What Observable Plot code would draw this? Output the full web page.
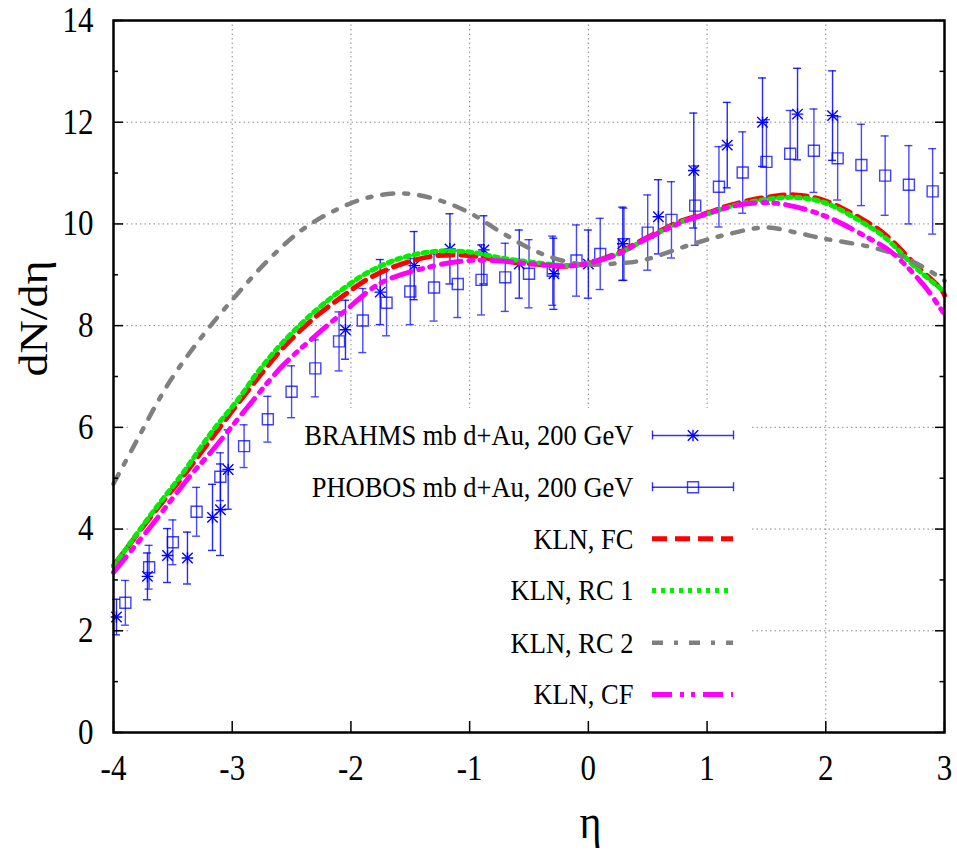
<!DOCTYPE html>
<html><head><meta charset="utf-8">
<script src="https://cdn.jsdelivr.net/npm/d3@7"></script>
<script src="https://cdn.jsdelivr.net/npm/@observablehq/plot@0.6"></script>
<style>body{margin:0;background:#fff}#chart{width:957px;height:857px}</style>
</head><body><div id="chart"></div>
<script>
// ---------- data ----------
const brahmsEta = [-3.975,-3.714,-3.545,-3.377,-3.166,-3.099,-3.034,-2.046,-1.753,-1.467,-1.166,-0.88,-0.582,-0.29,0.0,0.29,0.59,0.888,1.17,1.467,1.762,2.057];
const brahmsY   = [2.27,3.07,3.48,3.43,4.23,4.38,5.17,7.92,8.66,9.18,9.51,9.49,9.21,9.02,9.21,9.61,10.14,11.05,11.55,12.0,12.16,12.13];
const brahmsErr = [0.35,0.46,0.53,0.51,0.65,0.9,0.78,0.58,0.64,0.67,0.69,0.67,0.67,0.7,0.67,0.72,0.73,1.13,0.84,0.87,0.9,0.88];

const phobosEta = [-3.9,-3.7,-3.5,-3.3,-3.1,-2.9,-2.7,-2.5,-2.3,-2.1,-1.9,-1.7,-1.5,-1.3,-1.1,-0.9,-0.7,-0.5,-0.3,-0.1,0.1,0.3,0.5,0.7,0.9,1.1,1.3,1.5,1.7,1.9,2.1,2.3,2.5,2.7,2.9];
const phobosY   = [2.55,3.25,3.74,4.34,5.03,5.63,6.16,6.70,7.16,7.69,8.10,8.45,8.67,8.75,8.82,8.90,8.95,9.02,9.08,9.28,9.41,9.60,9.83,10.08,10.36,10.73,11.01,11.22,11.38,11.44,11.29,11.16,10.95,10.77,10.64];
const phobosErr = [0.44,0.43,0.44,0.48,0.47,0.42,0.45,0.51,0.56,0.58,0.63,0.65,0.65,0.66,0.66,0.69,0.67,0.67,0.68,0.7,0.7,0.71,0.74,0.75,0.78,0.79,0.8,0.83,0.85,0.82,0.82,0.8,0.78,0.77,0.84];

const fcEta = [-4,-3.68,-3.41,-3.175,-2.978,-2.78,-2.57,-2.305,-2.08,-1.855,-1.575,-1.295,-1.01,-0.735,-0.455,-0.118,0.22,0.5,0.785,1.01,1.18,1.49,1.74,1.99,2.33,2.495,2.776,2.97,3.0];
const fcY   = [3.28,4.26,5.05,5.78,6.39,6.98,7.57,8.16,8.56,8.92,9.21,9.37,9.38,9.28,9.21,9.18,9.40,9.74,10.06,10.22,10.36,10.52,10.57,10.46,10.06,9.80,9.15,8.72,8.6];

const rc1Eta = [-4,-3.68,-3.41,-3.175,-2.95,-2.78,-2.57,-2.305,-2.08,-1.855,-1.575,-1.295,-1.01,-0.735,-0.455,-0.118,0.22,0.5,0.785,1.01,1.18,1.49,1.74,1.99,2.33,2.495,2.776,2.97,3.0];
const rc1Y   = [3.27,4.3,5.12,5.9,6.55,7.1,7.68,8.28,8.7,9.05,9.33,9.46,9.45,9.33,9.24,9.19,9.38,9.72,10.04,10.2,10.33,10.48,10.52,10.42,10.0,9.74,9.1,8.72,8.65];

const rc2Eta = [-4,-3.82,-3.54,-3.26,-2.98,-2.70,-2.42,-2.14,-1.855,-1.57,-1.29,-1.01,-0.73,-0.45,-0.17,0.0,0.22,0.45,0.87,1.18,1.49,1.77,1.96,2.39,2.69,2.96,3.0];
const rc2Y   = [4.89,5.67,6.85,7.77,8.56,9.28,9.87,10.26,10.52,10.60,10.49,10.23,9.83,9.47,9.25,9.2,9.22,9.28,9.6,9.8,9.93,9.82,9.72,9.54,9.31,8.95,8.88];

const cfEta = [-4,-3.68,-3.37,-3.17,-2.894,-2.58,-2.3,-2.05,-1.74,-1.29,-1.01,-0.735,-0.455,-0.118,0.22,0.5,0.785,1.0,1.26,1.51,1.74,2.02,2.33,2.55,2.83,3.0];
const cfY   = [3.15,4.07,5.0,5.54,6.33,7.2,7.8,8.29,8.85,9.18,9.28,9.27,9.21,9.18,9.38,9.72,10.03,10.2,10.37,10.42,10.34,10.13,9.76,9.45,8.78,8.22];

const xTicks = [-4,-3,-2,-1,0,1,2,3];
const yTicksMajor = [0,2,4,6,8,10,12,14];
const yTicksMinor = [1,3,5,7,9,11,13];
const xGrid = [-3,-2,-1,0,1,2];
const yGrid = [2,4,6,8,10,12];

const legendLabels = ["BRAHMS mb d+Au, 200 GeV","PHOBOS mb d+Au, 200 GeV","KLN, FC","KLN, RC 1","KLN, RC 2","KLN, CF"];

// ---------- layout ----------
const W = 957, H = 857, mL = 113, mR = 13, mT = 20, mB = 125;
const xDom = [-4, 3], yDom = [0, 14];
const kx = (W - mL - mR) / (xDom[1] - xDom[0]);
const ky = (H - mT - mB) / (yDom[1] - yDom[0]);
const pxX = px => xDom[0] + (px - mL) / kx;   // pixel -> data (layout helpers)
const pxY = py => yDom[0] + (H - mB - py) / ky;
const ux = p => p / kx, uy = p => p / ky;

const brahms = brahmsEta.map((x, i) => ({x, y: brahmsY[i], e: brahmsErr[i]}));
const phobos = phobosEta.map((x, i) => ({x, y: phobosY[i], e: phobosErr[i]}));
const mk = (eta, ys) => eta.map((x, i) => ({x, y: ys[i]}));
const curves = [
  {data: mk(fcEta, fcY),   stroke: "#ff0000", dash: "15,8",            w: 5},
  {data: mk(rc1Eta, rc1Y), stroke: "#00ee00", dash: "4,5",             w: 5},
  {data: mk(rc2Eta, rc2Y), stroke: "#808080", dash: "11,11,4,11",      w: 4.5},
  {data: mk(cfEta, cfY),   stroke: "#ff00ff", dash: "20,8,4,7,4,8",    w: 5}
];

const blue = "#0000ff";
const cap = ux(4);
const font = "'Liberation Serif', 'Times New Roman', serif";

function errMarks(data, op) {
  return [
    Plot.ruleX(data, {x: "x", y1: d => d.y - d.e, y2: d => d.y + d.e, stroke: blue, strokeOpacity: op, strokeWidth: 1.4}),
    Plot.ruleY(data, {y: d => d.y + d.e, x1: d => d.x - cap, x2: d => d.x + cap, stroke: blue, strokeOpacity: op, strokeWidth: 1.4}),
    Plot.ruleY(data, {y: d => d.y - d.e, x1: d => d.x - cap, x2: d => d.x + cap, stroke: blue, strokeOpacity: op, strokeWidth: 1.4})
  ];
}
function asterisk(data) {
  return [
    Plot.dot(data, {x: "x", y: "y", symbol: "times", r: 4.8, stroke: blue, strokeWidth: 1.4}),
    Plot.dot(data, {x: "x", y: "y", symbol: "plus", r: 3.8, stroke: blue, strokeWidth: 1.4})
  ];
}
function square(data) {
  return Plot.dot(data, {x: "x", y: "y", symbol: "square", r: 6.2, stroke: blue, strokeOpacity: 0.75, fill: "none", strokeWidth: 1.4});
}

// legend geometry
const legRows = [435, 486.7, 538.3, 590, 642.3, 694];
const legTextX = 633, legS1 = 652, legS2 = 733;
const legendMarks = [];
legendLabels.forEach((lab, i) => {
  legendMarks.push(Plot.text([lab], {x: pxX(legTextX), y: pxY(legRows[i]), text: d => d, textAnchor: "end", lineAnchor: "middle", fontSize: 26.5, fontFamily: font, fill: "black"}));
});
const legPts = [0, 1].map(i => ({x: pxX((legS1 + legS2) / 2), y: pxY(legRows[i]), x1: pxX(legS1), x2: pxX(legS2)}));
legPts.forEach(p => {
  legendMarks.push(Plot.ruleY([p], {y: "y", x1: "x1", x2: "x2", stroke: blue, strokeOpacity: 0.8, strokeWidth: 1.4}));
  legendMarks.push(Plot.ruleX([p], {x: "x1", y1: d => d.y - uy(4.5), y2: d => d.y + uy(4.5), stroke: blue, strokeOpacity: 0.8, strokeWidth: 1.4}));
  legendMarks.push(Plot.ruleX([p], {x: "x2", y1: d => d.y - uy(4.5), y2: d => d.y + uy(4.5), stroke: blue, strokeOpacity: 0.8, strokeWidth: 1.4}));
});
legendMarks.push(...asterisk([legPts[0]]));
legendMarks.push(square([legPts[1]]));
curves.forEach((c, i) => {
  legendMarks.push(Plot.ruleY([{y: pxY(legRows[i + 2])}], {y: "y", x1: pxX(legS1), x2: pxX(legS2), stroke: c.stroke, strokeWidth: c.w, strokeDasharray: c.dash}));
});

// ticks (inward, gnuplot style)
const tickMarks = [
  Plot.ruleY(yTicksMajor, {y: d => d, x1: xDom[0], x2: xDom[0] + ux(10), stroke: "black", strokeWidth: 1.5}),
  Plot.ruleY(yTicksMinor, {y: d => d, x1: xDom[0], x2: xDom[0] + ux(5), stroke: "black", strokeWidth: 1.5}),
  Plot.ruleY(yTicksMajor, {y: d => d, x1: xDom[1], x2: xDom[1] - ux(9), stroke: "black", strokeWidth: 1.5}),
  Plot.ruleY(yTicksMinor, {y: d => d, x1: xDom[1], x2: xDom[1] - ux(4.5), stroke: "black", strokeWidth: 1.5}),
  Plot.ruleX(xTicks, {x: d => d, y1: yDom[0], y2: yDom[0] + uy(11), stroke: "black", strokeWidth: 1.5})
];

const chart = Plot.plot({
  width: W, height: H,
  marginLeft: mL, marginRight: mR, marginTop: mT, marginBottom: mB,
  x: {domain: xDom, axis: null},
  y: {domain: yDom, axis: null},
  style: {fontFamily: font, background: "white", overflow: "visible"},
  marks: [
    Plot.ruleX(xGrid, {x: d => d, stroke: "#8a8a8a", strokeWidth: 1, strokeDasharray: "1.5,3"}),
    Plot.ruleY(yGrid, {y: d => d, stroke: "#8a8a8a", strokeWidth: 1, strokeDasharray: "1.5,3"}),
    Plot.rect([0], {x1: pxX(128), x2: pxX(750), y1: yDom[0], y2: pxY(408), fill: "white"}),
    ...errMarks(phobos, 0.72),
    square(phobos),
    ...errMarks(brahms, 0.85),
    ...asterisk(brahms),
    ...curves.map(c => Plot.line(c.data, {x: "x", y: "y", stroke: c.stroke, strokeWidth: c.w, strokeDasharray: c.dash, curve: "catmull-rom"})),
    ...legendMarks,
    ...tickMarks,
    Plot.frame({stroke: "black", strokeWidth: 2.5}),
    Plot.text(xTicks, {x: d => d, y: yDom[0], text: d => String(d), dy: 36, textAnchor: "middle", lineAnchor: "middle", fontSize: 31, fontFamily: font, fill: "black"}),
    Plot.text(yTicksMajor, {x: xDom[0], y: d => d, text: d => String(d), dx: -20, textAnchor: "end", lineAnchor: "middle", fontSize: 31, fontFamily: font, fill: "black"}),
    Plot.text(["η"], {x: pxX(590), y: yDom[0], text: d => d, dy: 90, textAnchor: "middle", lineAnchor: "middle", fontSize: 42, fontFamily: font, fill: "black"}),
    Plot.text(["dN/dη"], {frameAnchor: "left", text: d => d, dx: -79, rotate: -90, lineAnchor: "middle", fontSize: 40, fontFamily: font, fill: "black"})
  ]
});
// the reference's lettering is vertically stretched: mimic it
chart.querySelectorAll("text").forEach(t => {
  const tr = t.getAttribute("transform") || "";
  const rotated = /rotate/.test(tr);
  t.setAttribute("transform", tr + (rotated ? " scale(1.15,1)" : " scale(1,1.15)"));
});
document.getElementById("chart").append(chart);
</script>
</body></html>
